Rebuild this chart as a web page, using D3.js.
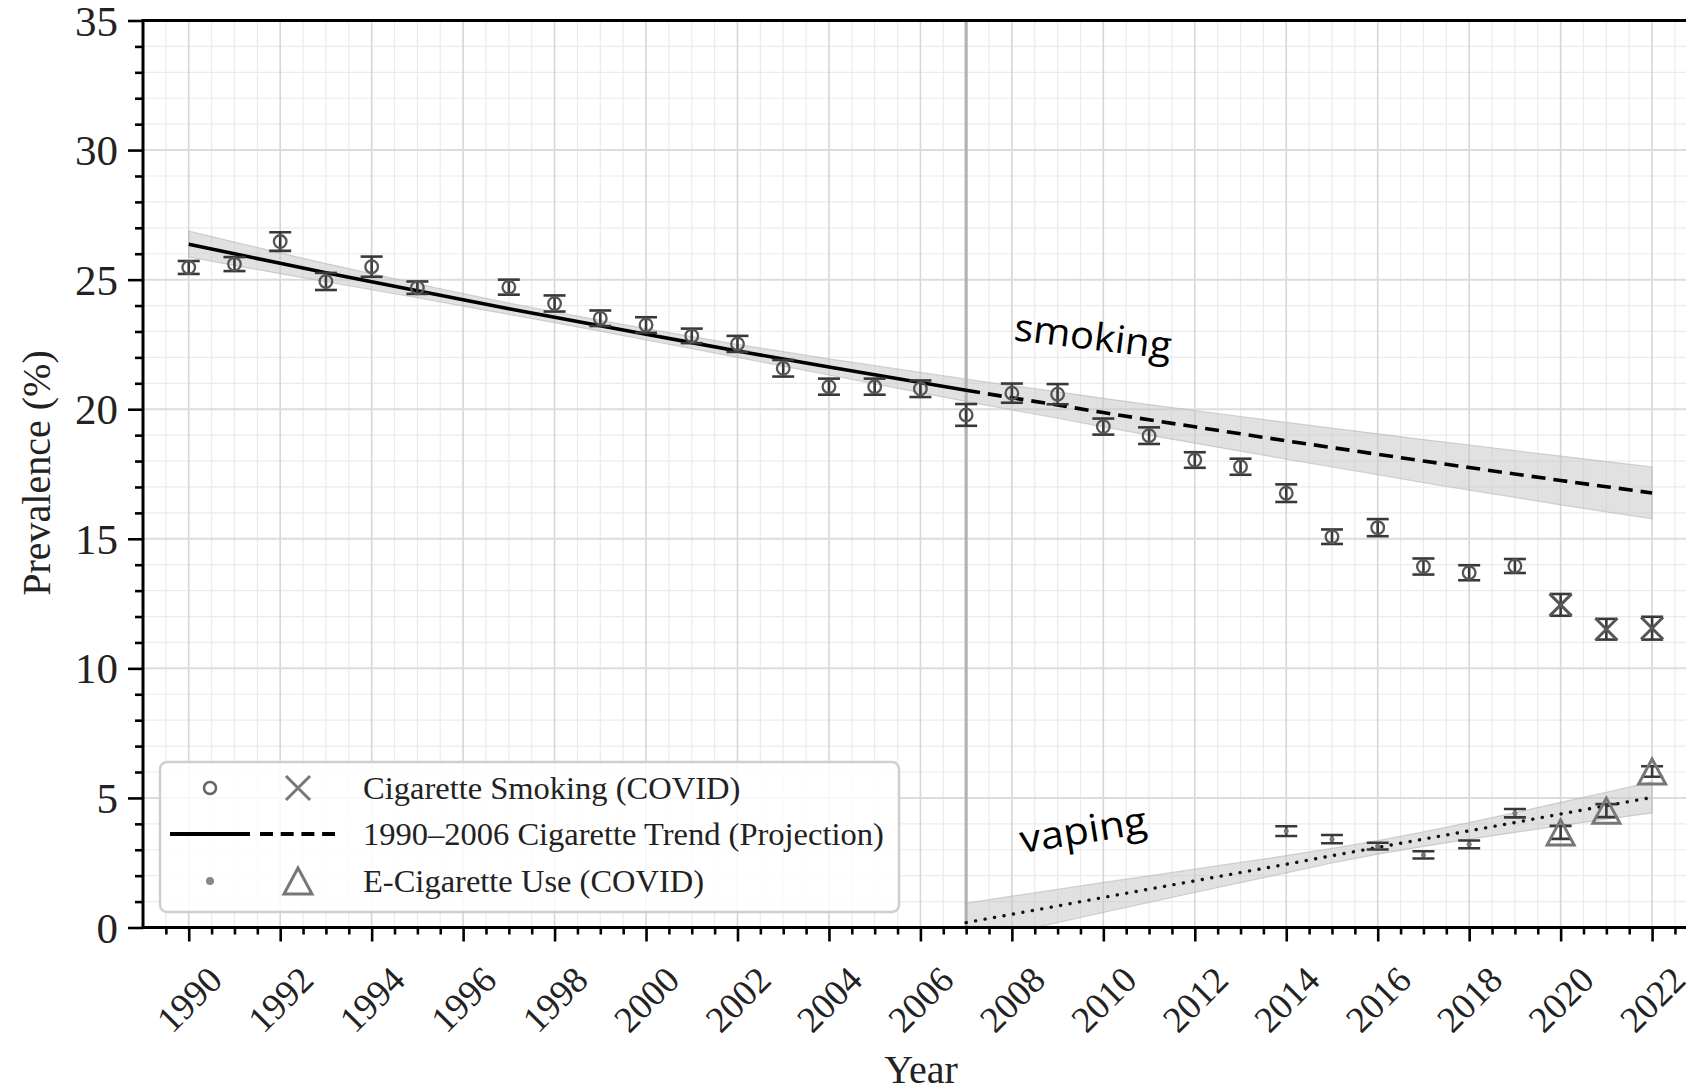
<!DOCTYPE html>
<html><head><meta charset="utf-8">
<script src="https://cdn.jsdelivr.net/npm/d3@7"></script>
<style>body{margin:0;background:#fff;} svg{display:block}</style>
</head><body>
<svg id="c" width="1686" height="1092"></svg>
<script>
// ---------- data ----------
const smokeYears=[1990,1991,1992,1993,1994,1995,1997,1998,1999,2000,2001,2002,2003,2004,2005,2006,2007,2008,2009,2010,2011,2012,2013,2014,2015,2016,2017,2018,2019];
const smokeValues=[25.47,25.60,26.47,24.93,25.50,24.69,24.71,24.08,23.51,23.25,22.83,22.52,21.58,20.87,20.87,20.79,19.78,20.62,20.58,19.33,18.98,18.04,17.78,16.76,15.08,15.43,13.93,13.69,13.95];
const smokeErr=[0.25,0.27,0.36,0.33,0.39,0.24,0.29,0.31,0.30,0.30,0.28,0.31,0.32,0.31,0.31,0.32,0.42,0.37,0.39,0.31,0.32,0.30,0.31,0.34,0.28,0.33,0.31,0.29,0.27];
const smokeCovidYears=[2020,2021,2022];
const smokeCovidValues=[12.45,11.51,11.55];
const smokeCovidErr=[0.42,0.40,0.44];
const ecigYears=[2014,2015,2016,2017,2018,2019];
const ecigValues=[3.72,3.41,3.14,2.80,3.21,4.41];
const ecigErr=[0.19,0.16,0.13,0.14,0.15,0.16];
const ecigCovidYears=[2020,2021,2022];
const ecigCovidValues=[3.67,4.51,6.02];
const ecigCovidErr=[0.25,0.25,0.20];

const trendYears=[1990,1991,1992,1993,1994,1995,1996,1997,1998,1999,2000,2001,2002,2003,2004,2005,2006,2007,2008,2009,2010,2011,2012,2013,2014,2015,2016,2017,2018,2019,2020,2021,2022];
const trendValues=[26.37,26.00,25.63,25.27,24.92,24.57,24.22,23.88,23.55,23.22,22.89,22.57,22.25,21.94,21.63,21.33,21.03,20.73,20.44,20.16,19.87,19.59,19.32,19.05,18.78,18.52,18.26,18.00,17.75,17.50,17.25,17.01,16.77];
const trendUpper=[26.87,26.45,26.03,25.62,25.23,24.84,24.46,24.10,23.76,23.43,23.11,22.80,22.50,22.22,21.94,21.68,21.42,21.16,20.91,20.67,20.42,20.18,19.95,19.72,19.49,19.27,19.05,18.83,18.62,18.40,18.19,17.98,17.77];
const trendLower=[25.87,25.55,25.23,24.92,24.61,24.30,23.98,23.66,23.34,23.01,22.67,22.34,22.00,21.66,21.32,20.98,20.64,20.30,19.97,19.65,19.32,19.00,18.69,18.38,18.07,17.77,17.47,17.17,16.88,16.60,16.31,16.04,15.77];

const vapeYears=[2007,2008,2009,2010,2011,2012,2013,2014,2015,2016,2017,2018,2019,2020,2021,2022];
const vapeTrend=[0.19,0.51,0.83,1.16,1.48,1.80,2.12,2.44,2.77,3.09,3.41,3.73,4.05,4.38,4.70,5.02];
const vapeUpper=[0.94,1.21,1.47,1.74,1.99,2.25,2.51,2.77,3.05,3.35,3.69,4.05,4.43,4.83,5.22,5.62];
const vapeLower=[-0.56,-0.19,0.19,0.58,0.97,1.35,1.73,2.11,2.49,2.83,3.13,3.41,3.67,3.93,4.18,4.42];

const breakYear=2007;
const yTicks=[0,5,10,15,20,25,30,35];
const xTicks=[1990,1992,1994,1996,1998,2000,2002,2004,2006,2008,2010,2012,2014,2016,2018,2020,2022];
const legendLabels=["Cigarette Smoking (COVID)","1990\u20132006 Cigarette Trend (Projection)","E-Cigarette Use (COVID)"];

// ---------- setup ----------
const W=1686,H=1092;
const L=143, T=20.5, B=927.5;
const svg=d3.select('#c');
const x=d3.scaleLinear().domain([1989,2023.5]).range([L,L+34.5*45.73]);
const y=d3.scaleLinear().domain([0,35]).range([B,T]);
const serif="'Liberation Serif','Times New Roman',serif";

svg.append('defs').append('clipPath').attr('id','plot')
  .append('rect').attr('x',L).attr('y',T).attr('width',W-L).attr('height',B-T);
const plot=svg.append('g').attr('clip-path','url(#plot)');

// grid
const xMinor=d3.range(1989.5,2024,0.5).filter(v=>!xTicks.includes(v));
const yMinor=d3.range(1,35,1).filter(v=>!yTicks.includes(v));
plot.append('g').selectAll('line').data(xMinor).join('line')
  .attr('x1',d=>x(d)).attr('x2',d=>x(d)).attr('y1',T).attr('y2',B)
  .attr('stroke','#ebebeb').attr('stroke-width',1.2);
plot.append('g').selectAll('line').data(yMinor).join('line')
  .attr('x1',L).attr('x2',W).attr('y1',d=>y(d)).attr('y2',d=>y(d))
  .attr('stroke','#ebebeb').attr('stroke-width',1.2);
plot.append('g').selectAll('line').data(xTicks).join('line')
  .attr('x1',d=>x(d)).attr('x2',d=>x(d)).attr('y1',T).attr('y2',B)
  .attr('stroke','#d6d6d6').attr('stroke-width',1.6);
plot.append('g').selectAll('line').data(yTicks).join('line')
  .attr('x1',L).attr('x2',W).attr('y1',d=>y(d)).attr('y2',d=>y(d))
  .attr('stroke','#dcdcdc').attr('stroke-width',2);

// bands
const area=d3.area().x(d=>x(d[0])).y0(d=>y(d[1])).y1(d=>y(d[2]));
plot.append('path').datum(trendYears.map((t,i)=>[t,trendLower[i],trendUpper[i]]))
  .attr('d',area).attr('fill','#c4c4c4').attr('fill-opacity',0.5)
  .attr('stroke','#b8b8b8').attr('stroke-opacity',0.6).attr('stroke-width',1.2);
plot.append('path').datum(vapeYears.map((t,i)=>[t,vapeLower[i],vapeUpper[i]]))
  .attr('d',area).attr('fill','#c4c4c4').attr('fill-opacity',0.5)
  .attr('stroke','#b8b8b8').attr('stroke-opacity',0.6).attr('stroke-width',1.2);

// break line
plot.append('line').attr('x1',x(breakYear)).attr('x2',x(breakYear)).attr('y1',T).attr('y2',B)
  .attr('stroke','#b3b3b3').attr('stroke-width',3.2);

// trend lines
const line=d3.line().x(d=>x(d[0])).y(d=>y(d[1]));
const tr=trendYears.map((t,i)=>[t,trendValues[i]]);
plot.append('path').datum(tr.filter(d=>d[0]<=breakYear)).attr('d',line)
  .attr('fill','none').attr('stroke','#000').attr('stroke-width',3.6);
plot.append('path').datum(tr.filter(d=>d[0]>=breakYear)).attr('d',line)
  .attr('fill','none').attr('stroke','#000').attr('stroke-width',3.6).attr('stroke-dasharray','14,8');
plot.append('path').datum(vapeYears.map((t,i)=>[t,vapeTrend[i]])).attr('d',line)
  .attr('fill','none').attr('stroke','#111').attr('stroke-width',3.4)
  .attr('stroke-linecap','round').attr('stroke-dasharray','0.1,9.5');

// error bars
function errorBars(ys,vs,es,cap){
  const g=plot.append('g').attr('stroke','#383838').attr('stroke-width',2.6);
  ys.forEach((t,i)=>{
    const cx=x(t), y1=y(vs[i]-es[i]), y2=y(vs[i]+es[i]);
    g.append('line').attr('x1',cx).attr('x2',cx).attr('y1',y1).attr('y2',y2);
    g.append('line').attr('x1',cx-cap).attr('x2',cx+cap).attr('y1',y1).attr('y2',y1);
    g.append('line').attr('x1',cx-cap).attr('x2',cx+cap).attr('y1',y2).attr('y2',y2);
  });
}
errorBars(smokeYears,smokeValues,smokeErr,11);
errorBars(smokeCovidYears,smokeCovidValues,smokeCovidErr,11);
errorBars(ecigYears,ecigValues,ecigErr,11);
errorBars(ecigCovidYears,ecigCovidValues,ecigCovidErr,11);

// markers
plot.append('g').selectAll('circle').data(smokeYears).join('circle')
  .attr('cx',d=>x(d)).attr('cy',(d,i)=>y(smokeValues[i])).attr('r',6.3)
  .attr('fill','none').attr('stroke','#555').attr('stroke-width',2.3);
const xPath=s=>`M${-s},${-s}L${s},${s}M${-s},${s}L${s},${-s}`;
plot.append('g').selectAll('path').data(smokeCovidYears).join('path')
  .attr('transform',(d,i)=>`translate(${x(d)},${y(smokeCovidValues[i])})`)
  .attr('d',xPath(11)).attr('fill','none').attr('stroke','#555').attr('stroke-width',3);
plot.append('g').selectAll('circle').data(ecigYears).join('circle')
  .attr('cx',d=>x(d)).attr('cy',(d,i)=>y(ecigValues[i])).attr('r',2.5).attr('fill','#777');
const triPath=(w,h)=>`M0,${-h/2}L${w/2},${h/2}L${-w/2},${h/2}Z`;
plot.append('g').selectAll('path').data(ecigCovidYears).join('path')
  .attr('transform',(d,i)=>`translate(${x(d)},${y(ecigCovidValues[i])})`)
  .attr('d',triPath(27,25)).attr('fill','none').attr('stroke','#777').attr('stroke-width',3);

// annotations
svg.append('text').attr('transform','translate(1013,340) rotate(7)')
  .attr('font-family',"'Open Sans','Noto Sans',sans-serif").attr('font-size',38)
  .attr('textLength',158).attr('lengthAdjust','spacingAndGlyphs').attr('fill','#000').text('smoking');
svg.append('text').attr('transform','translate(1022,853) rotate(-9)')
  .attr('font-family',"'Open Sans','Noto Sans',sans-serif").attr('font-size',38)
  .attr('textLength',128).attr('lengthAdjust','spacingAndGlyphs').attr('fill','#000').text('vaping');

// legend
const lg=svg.append('g');
lg.append('rect').attr('x',160).attr('y',762).attr('width',739).attr('height',150).attr('rx',7)
  .attr('fill','#fff').attr('fill-opacity',0.82).attr('stroke','#cfcfcf').attr('stroke-width',2.5);
const rows=[788,834,881];
lg.append('circle').attr('cx',210).attr('cy',rows[0]).attr('r',6).attr('fill','none').attr('stroke','#666').attr('stroke-width',2.5);
lg.append('path').attr('transform',`translate(298,${rows[0]})`).attr('d',xPath(12)).attr('stroke','#777').attr('stroke-width',3);
lg.append('line').attr('x1',170).attr('x2',250).attr('y1',rows[1]).attr('y2',rows[1]).attr('stroke','#000').attr('stroke-width',4);
lg.append('line').attr('x1',260).attr('x2',335).attr('y1',rows[1]).attr('y2',rows[1]).attr('stroke','#000').attr('stroke-width',4).attr('stroke-dasharray','13,7.7');
lg.append('circle').attr('cx',210).attr('cy',rows[2]).attr('r',4).attr('fill','#888');
lg.append('path').attr('transform',`translate(298,${rows[2]})`).attr('d',triPath(28,26)).attr('fill','none').attr('stroke','#777').attr('stroke-width',3);
lg.selectAll('text.lt').data(legendLabels).join('text').attr('class','lt')
  .attr('x',363).attr('y',(d,i)=>rows[i]+11).attr('font-family',serif).attr('font-size',32.5).attr('fill','#222').text(d=>d);

// axes
const yAxis=d3.axisLeft(y).tickValues(yTicks).tickSize(15).tickPadding(10);
const yMinorAxis=d3.axisLeft(y).tickValues(yMinor).tickSize(8).tickFormat('');
const gy=svg.append('g').attr('transform',`translate(${L},0)`).call(yAxis);
const gym=svg.append('g').attr('transform',`translate(${L},0)`).call(yMinorAxis);
gy.select('.domain').remove(); gym.select('.domain').remove();
gy.selectAll('.tick text').attr('font-family',serif).attr('font-size',43).attr('fill','#222').attr('dy','0.34em');
const xAxis=d3.axisBottom(x).tickValues(xTicks).tickSize(14).tickFormat(d3.format('d'));
const xMinorAxis=d3.axisBottom(x).tickValues(xMinor).tickSize(7).tickFormat('');
const gx=svg.append('g').attr('transform',`translate(0,${B})`).call(xAxis);
const gxm=svg.append('g').attr('transform',`translate(0,${B})`).call(xMinorAxis);
gx.select('.domain').remove(); gxm.select('.domain').remove();
svg.selectAll('.tick line').attr('stroke','#000').attr('stroke-width',2.6);
gx.selectAll('.tick text').attr('font-family',serif).attr('font-size',37).attr('fill','#222')
  .attr('y',0).attr('dy',0).attr('text-anchor','middle').attr('dominant-baseline','central')
  .attr('transform','translate(0,72) rotate(-45)');
// spines
svg.append('line').attr('x1',L).attr('x2',L).attr('y1',T).attr('y2',B).attr('stroke','#000').attr('stroke-width',3).attr('stroke-linecap','square');
svg.append('line').attr('x1',L).attr('x2',W).attr('y1',B).attr('y2',B).attr('stroke','#000').attr('stroke-width',3);
svg.append('line').attr('x1',L).attr('x2',W).attr('y1',T).attr('y2',T).attr('stroke','#000').attr('stroke-width',3);

// axis titles
svg.append('text').attr('x',921).attr('y',1083).attr('text-anchor','middle')
  .attr('font-family',serif).attr('font-size',40).attr('fill','#222').text('Year');
svg.append('text').attr('transform','translate(50,473) rotate(-90)').attr('text-anchor','middle')
  .attr('font-family',serif).attr('font-size',40).attr('fill','#222').text('Prevalence (%)');
</script>
</body></html>
